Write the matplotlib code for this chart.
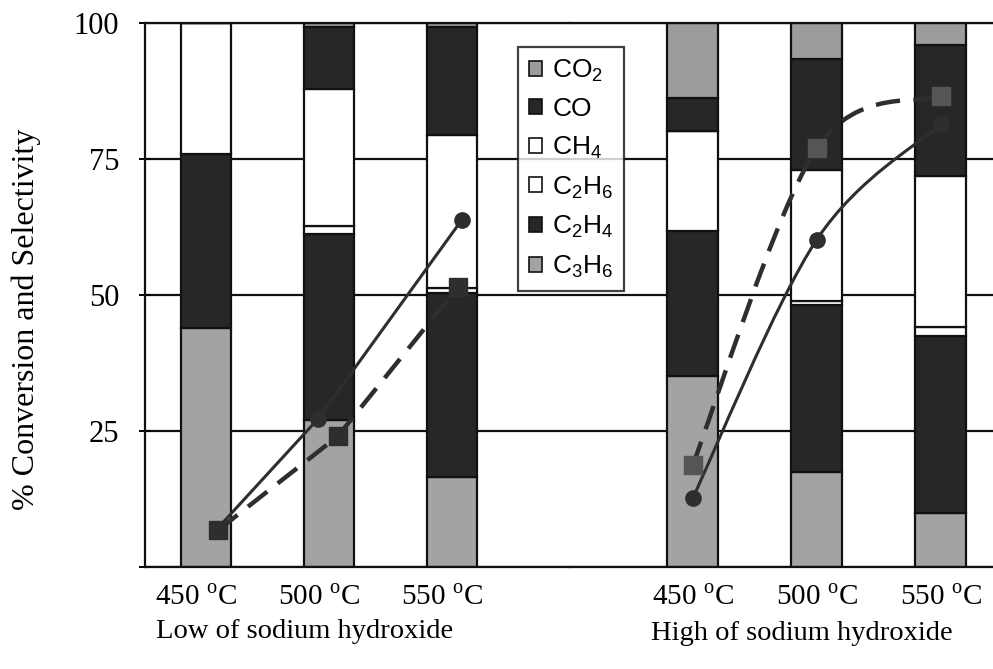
import matplotlib

matplotlib.use("Agg")

import matplotlib.pyplot as plt
import numpy as np
from matplotlib.patches import Patch, PathPatch
from matplotlib.path import Path

plt.rcParams["font.family"] = "Liberation Serif"
plt.rcParams["mathtext.fontset"] = "custom"
plt.rcParams["mathtext.rm"] = "Liberation Serif"
plt.rcParams["mathtext.sf"] = "Liberation Sans"

temps = ["450", "500", "550"]
groups = ["Low of sodium hydroxide", "High of sodium hydroxide"]
species = ["C3H6", "C2H4", "C2H6", "CH4", "CO", "CO2"]
species_labels = {
    "CO2": "CO$_\\mathsf{2}$",
    "CO": "CO",
    "CH4": "CH$_\\mathsf{4}$",
    "C2H6": "C$_\\mathsf{2}$H$_\\mathsf{6}$",
    "C2H4": "C$_\\mathsf{2}$H$_\\mathsf{4}$",
    "C3H6": "C$_\\mathsf{3}$H$_\\mathsf{6}$",
}

# selectivity (%) per species, per temperature
low_sel = {
    "C3H6": [44.0, 27.0, 16.5],
    "C2H4": [32.0, 34.2, 33.8],
    "C2H6": [24.0, 1.4, 1.0],
    "CH4": [0.0, 25.3, 28.2],
    "CO": [0.0, 11.3, 19.7],
    "CO2": [0.0, 0.8, 0.8],
}
high_sel = {
    "C3H6": [35.2, 17.4, 9.9],
    "C2H4": [26.6, 30.8, 32.5],
    "C2H6": [18.4, 0.7, 1.7],
    "CH4": [0.0, 24.1, 27.7],
    "CO": [6.1, 20.4, 24.2],
    "CO2": [13.7, 6.6, 4.0],
}

# conversion lines (solid, circles) and (dashed, squares)
low_solid = [7.0, 27.2, 63.8]
low_dashed = [6.8, 24.0, 51.5]
high_solid = [12.7, 60.2, 81.4]
high_dashed = [18.8, 77.0, 86.5]

colors = {
    "C3H6": "#a3a3a3",
    "C2H4": "#272727",
    "C2H6": "#ffffff",
    "CH4": "#ffffff",
    "CO": "#272727",
    "CO2": "#9c9c9c",
}
LINE_C = "#2e2e2e"
BAR_W = 0.41
DASH = (5.5, 3)


def smooth_path(xs, ys):
    verts = [(xs[0], ys[0])]
    codes = [Path.MOVETO]
    n = len(xs)
    for i in range(n - 1):
        xp, yp = xs[max(i - 1, 0)], ys[max(i - 1, 0)]
        xn, yn = xs[min(i + 2, n - 1)], ys[min(i + 2, n - 1)]
        c1 = (xs[i] + (xs[i + 1] - xp) / 6, ys[i] + (ys[i + 1] - yp) / 6)
        c2 = (xs[i + 1] - (xn - xs[i]) / 6, ys[i + 1] - (yn - ys[i]) / 6)
        verts += [c1, c2, (xs[i + 1], ys[i + 1])]
        codes += [Path.CURVE4] * 3
    return Path(verts, codes)


def draw_bars(ax, sel):
    x = np.arange(len(temps))
    bottom = np.zeros(len(temps))
    for sp in species:
        vals = np.array(sel[sp])
        ax.bar(x, vals, BAR_W, bottom=bottom, color=colors[sp],
               edgecolor="#111111", linewidth=1.6, zorder=2)
        bottom += vals


def style_axes(ax, xlim, tick_shift):
    ax.set_xlim(*xlim)
    ax.set_ylim(0, 100)
    ax.set_axisbelow(True)
    ax.yaxis.grid(True, color="#111111", linewidth=1.6)
    ax.set_yticks([0, 25, 50, 75, 100])
    ax.set_xticks(np.arange(len(temps)) + tick_shift)
    ax.set_xticklabels([f"{t} $^\\mathrm{{o}}$C" for t in temps], fontsize=21)
    ax.tick_params(axis="x", length=0, pad=13)
    for s in ax.spines.values():
        s.set_color("#111111")
        s.set_linewidth(1.6)


fig = plt.figure(figsize=(9.93, 6.69), dpi=100)
bottom_f = 102 / 669
height_f = (567 - 23) / 669
ax1 = fig.add_axes([145 / 993, bottom_f, (570 - 145) / 993, height_f])
ax2 = fig.add_axes([570 / 993, bottom_f, (993 - 570) / 993, height_f])

draw_bars(ax1, low_sel)
draw_bars(ax2, high_sel)
style_axes(ax1, (-0.496, 2.96), -0.08)
style_axes(ax2, (-0.99, 2.42), 0.0)

ax1.set_yticklabels(["", "25", "50", "75", "100"], fontsize=22)
ax1.tick_params(axis="y", direction="inout", length=9, width=1.4, pad=14)
ax1.spines["right"].set_visible(False)
ax2.spines["left"].set_visible(False)
ax2.spines["right"].set_visible(False)
ax2.tick_params(axis="y", length=0, labelleft=False)

fig.text(26 / 993, 1 - 319 / 669, "% Conversion and Selectivity", fontsize=23,
         rotation=90, ha="center", va="center")
fig.text(305 / 993, 1 - 638 / 669, groups[0], fontsize=20.5, ha="center", va="baseline")
fig.text(802 / 993, 1 - 640 / 669, groups[1], fontsize=20.5, ha="center", va="baseline")

# left panel: straight lines, markers slightly off bar centres
x = np.arange(len(temps))
ax1.plot(x + np.array([0.09, -0.09, 0.08]), low_solid, color=LINE_C, lw=2.2,
         marker="o", markersize=11, zorder=4)
ax1.plot(x + np.array([0.10, 0.07, 0.05]), low_dashed, color=LINE_C, lw=3.2,
         dashes=DASH, marker="s", markersize=13, zorder=4)

# right panel: smoothed lines
ax2.add_patch(PathPatch(smooth_path(x.astype(float), high_solid), fill=False,
                        edgecolor=LINE_C, lw=2.2, zorder=4))
ax2.add_patch(PathPatch(smooth_path(x.astype(float), high_dashed), fill=False,
                        edgecolor=LINE_C, lw=3.2, linestyle=(0, DASH), zorder=4))
ax2.plot(x, high_solid, ls="none", color=LINE_C, marker="o", markersize=11, zorder=5)
ax2.plot(x, high_dashed, ls="none", color="#555555", marker="s", markersize=13, zorder=5)

handles = [Patch(facecolor=colors[sp], edgecolor="#111111", linewidth=1.2)
           for sp in reversed(species)]
labels = [species_labels[sp] for sp in reversed(species)]
leg = fig.legend(handles, labels, loc="upper left",
                 bbox_to_anchor=(518 / 993, 1 - 47 / 669),
                 prop={"family": "Liberation Sans", "size": 19},
                 handlelength=0.5, handleheight=0.5, handletextpad=0.4,
                 labelspacing=0.5, borderpad=0.4, borderaxespad=0.0,
                 frameon=True, fancybox=False)
leg.get_frame().set_edgecolor("#111111")
leg.get_frame().set_linewidth(1.6)
leg.set_zorder(10)

fig.savefig("out.png", dpi=100, facecolor="white")
